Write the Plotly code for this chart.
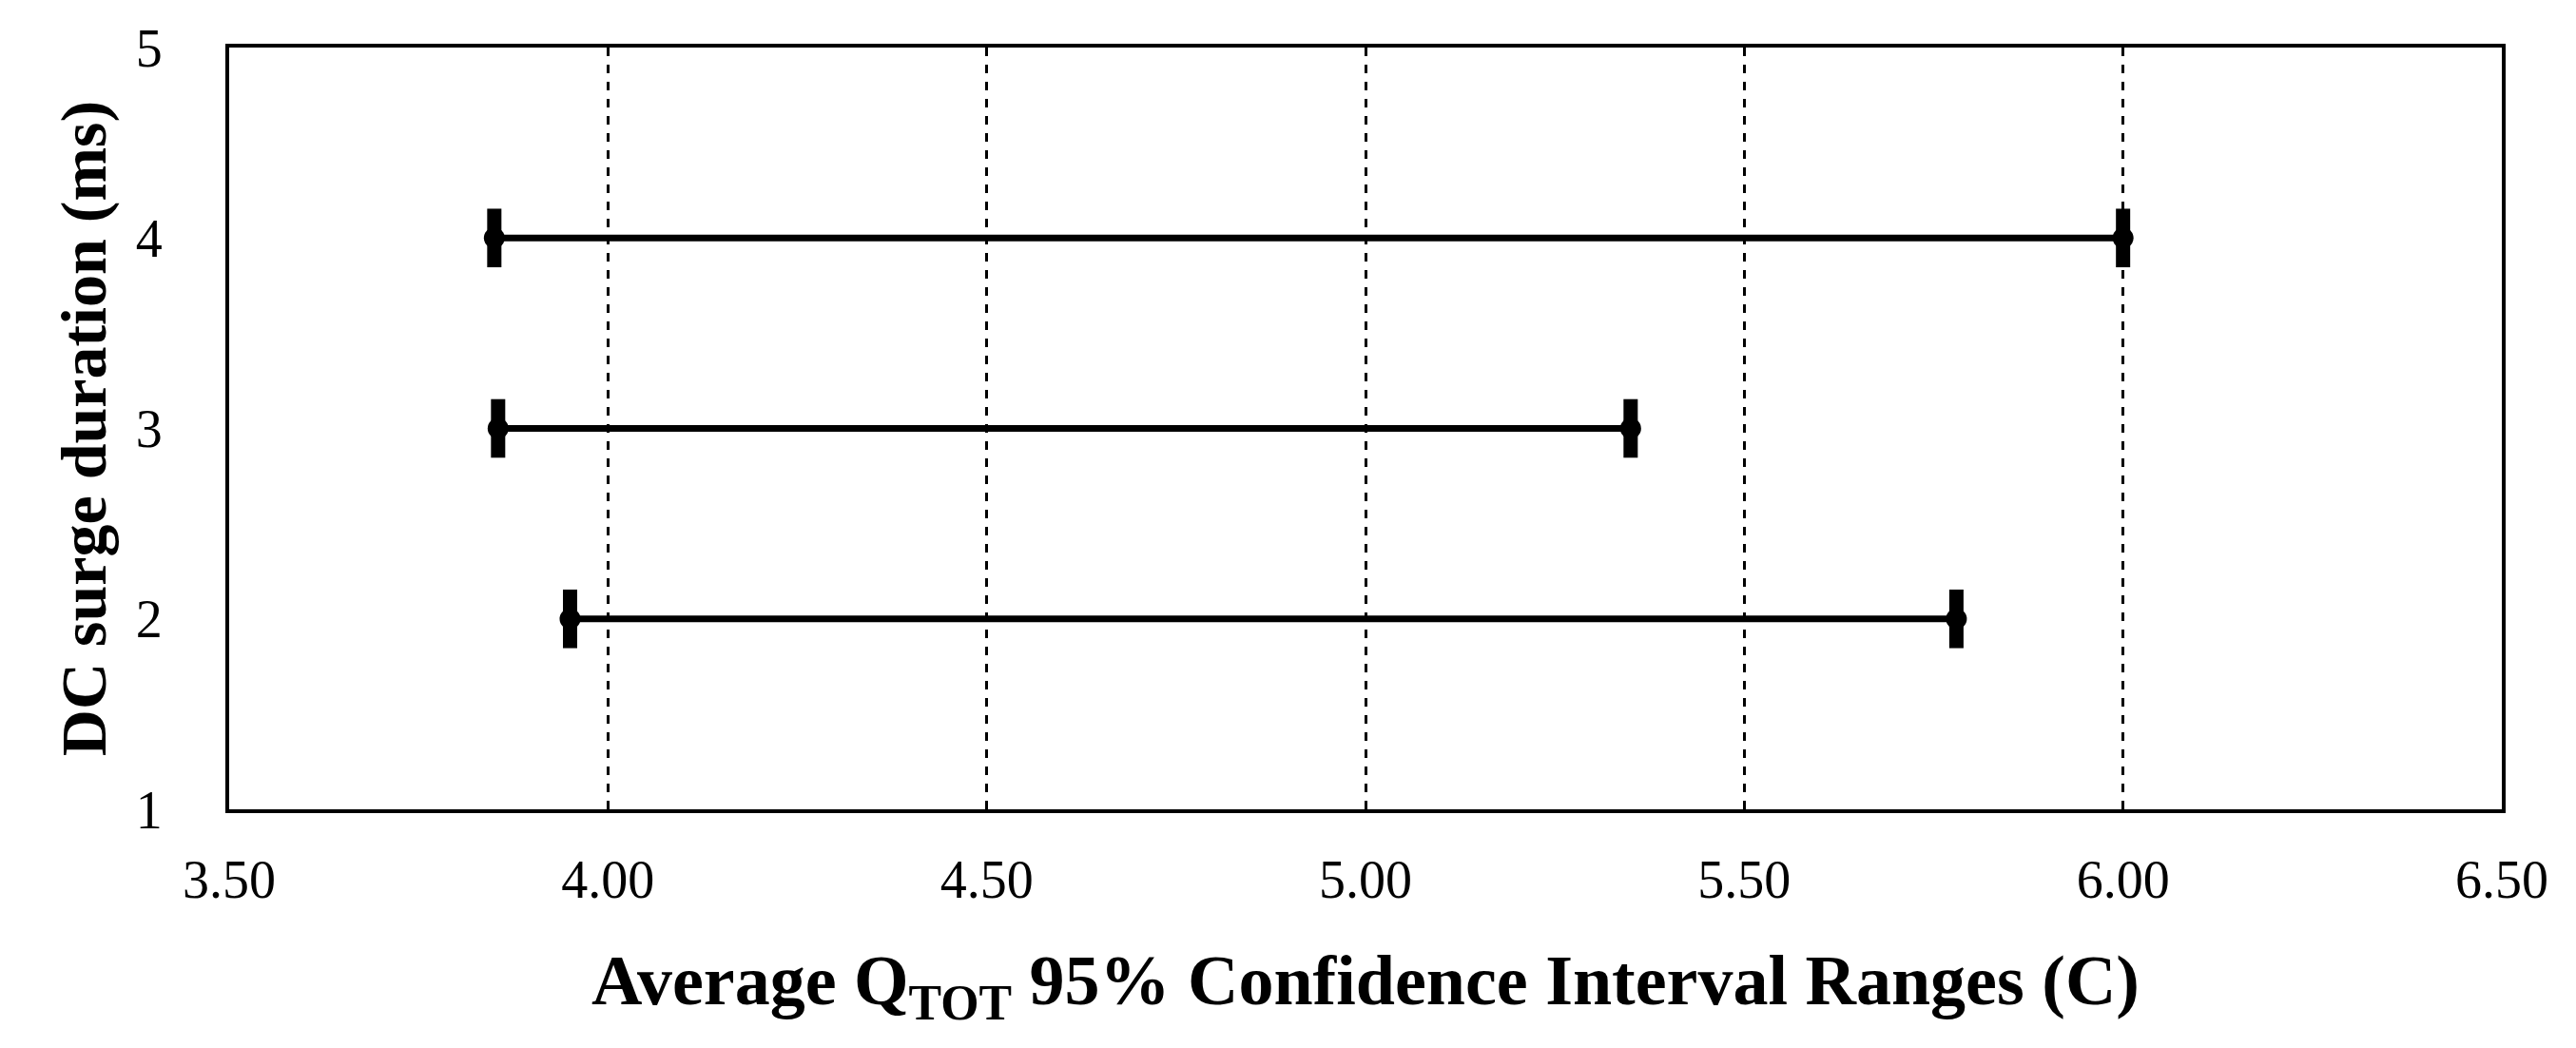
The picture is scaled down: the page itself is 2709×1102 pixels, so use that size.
import plotly.graph_objects as go

durations = [2, 3, 4]
ci_low = [3.95, 3.855, 3.85]
ci_high = [5.78, 5.35, 6.00]

fig = go.Figure()
for d, lo, hi in zip(durations, ci_low, ci_high):
    # interval line with tall elliptical end caps
    fig.add_trace(go.Scatter(x=[lo, hi], y=[d, d], mode="lines+markers",
                             line=dict(color="black", width=7),
                             marker=dict(symbol="circle", size=22, color="black"),
                             showlegend=False))
    fig.add_trace(go.Scatter(x=[lo, hi], y=[d, d], mode="markers",
                             marker=dict(symbol="line-ns", size=44,
                                         line=dict(color="black", width=15)),
                             showlegend=False))

font = "Liberation Serif"
fig.update_layout(
    width=2709, height=1102,
    plot_bgcolor="white", paper_bgcolor="white",
    margin=dict(l=233, r=86, t=38, b=259),
    font=dict(family=font, color="black"),
    xaxis=dict(range=[3.5, 6.5], tickvals=[3.5, 4.0, 4.5, 5.0, 5.5, 6.0, 6.5],
               tickformat=".2f", tickfont=dict(size=56),
               showgrid=True, gridcolor="black", griddash="dash", gridwidth=3,
               showline=True, linecolor="black", linewidth=4, mirror=True,
               zeroline=False, ticks="outside", ticklen=22, tickcolor="white",
               title=dict(text="<b>Average Q<sub>TOT</sub> 95% Confidence Interval Ranges (C)</b>",
                          font=dict(size=74), standoff=50)),
    yaxis=dict(range=[1, 5], tickvals=[1, 2, 3, 4, 5], tickfont=dict(size=56),
               showgrid=False, showline=True, linecolor="black", linewidth=4,
               mirror=True, zeroline=False, ticks="outside", ticklen=55,
               tickcolor="white",
               title=dict(text="<b>DC surge duration (ms)</b>",
                          font=dict(size=68), standoff=10)),
)

fig.write_html("out.html")
